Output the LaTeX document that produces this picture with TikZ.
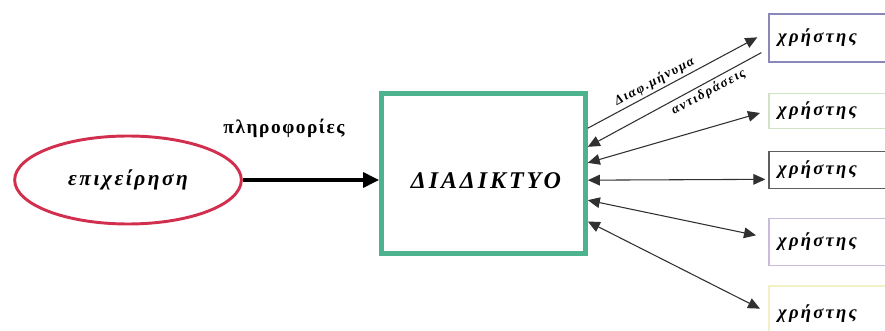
\documentclass[tikz,border=0pt]{standalone}
\usepackage{fontspec}
\setmainfont{Liberation Serif}
\usetikzlibrary{arrows.meta,shapes.geometric}
\definecolor{ellred}{HTML}{D22E4E}
\definecolor{netgreen}{HTML}{4DB38F}
\definecolor{ub1}{HTML}{8A88B8}
\definecolor{ub2}{HTML}{CFE3C6}
\definecolor{ub3}{HTML}{5E5E5E}
\definecolor{ub4}{HTML}{C8BCD8}
\definecolor{ub5}{HTML}{F2F0C4}
\definecolor{arr}{HTML}{303030}
\tikzset{
  gtext/.style={font=\fontsize{#1}{#1}\selectfont\bfseries\itshape\addfontfeatures{LetterSpace=12}},
  userbox/.style={draw=#1, line width=1.2pt, anchor=west, text width=84pt, inner xsep=7pt,
     align=left, font=\fontsize{14}{14}\selectfont\bfseries\itshape\addfontfeatures{LetterSpace=12}},
  link/.style={draw=arr, line width=0.8pt, {Triangle[length=9pt,width=8pt]}-{Triangle[length=9pt,width=8pt]}},
  linkto/.style={draw=arr, line width=0.8pt, -{Triangle[length=9pt,width=8pt]}},
}
\begin{document}
\begin{tikzpicture}[x=0.75pt,y=-0.75pt]
\useasboundingbox (0,0) rectangle (885,331);
\node[draw=ellred, line width=2.2pt, ellipse, minimum width=170pt, minimum height=66pt,
      gtext=16] (ell) at (128,180) {επιχείρηση};
\node[draw=netgreen, line width=3.5pt, minimum width=153pt, minimum height=120pt] (net) at (483.5,173.5) {};
\node[gtext=18] (nettxt) at (486,181) {ΔΙΑΔΙΚΤΥΟ};
\draw[line width=3pt, -{Triangle[length=12pt,width=11pt]}] (ell.east) -- (ell.east -| net.west);
\node[font=\fontsize{14.5}{14.5}\selectfont\bfseries\addfontfeatures{LetterSpace=8}] (info) at (284,128) {πληροφορίες};

\node[userbox=ub1, minimum height=36pt] (u1) at (768,38) {χρήστης};
\node[userbox=ub2, minimum height=26pt] (u2) at (768,111) {χρήστης};
\node[userbox=ub3, minimum height=28pt] (u3) at (768,170) {χρήστης};
\node[userbox=ub4, minimum height=35pt] (u4) at (768,242) {χρήστης};
\node[userbox=ub5, minimum height=42pt] (u5) at (768,314) {χρήστης};

\draw[linkto] ([yshift=34pt]net.east) -- ([xshift=-8pt,yshift=0.5pt]u1.west)
   node[pos=0.42, sloped, above, inner sep=2pt, gtext=10] (lab1) {Διαφ.μήνυμα};
\draw[linkto] ([xshift=-5pt,yshift=-11pt]u1.west) -- ([yshift=20pt]net.east)
   node[pos=0.33, sloped, below, inner sep=2pt, gtext=10] (lab2) {αντιδράσεις};
\draw[link] ([yshift=8pt]net.east) -- ([xshift=-6pt,yshift=-1.5pt]u2.west);
\draw[link] ([yshift=-5pt]net.east) -- ([xshift=-2pt,yshift=-7pt]u3.west);
\draw[link] ([yshift=-20pt]net.east) -- ([xshift=-9pt,yshift=5pt]u4.west);
\draw[link] ([yshift=-36pt]net.east) -- ([xshift=-6pt,yshift=4pt]u5.west);
\end{tikzpicture}
\end{document}
